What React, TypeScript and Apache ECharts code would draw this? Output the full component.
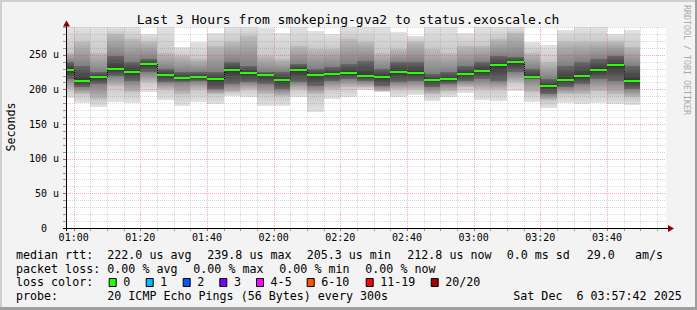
import React, { useEffect, useRef } from "react";
import * as echarts from "echarts";

// time axis in minutes after midnight (00:57:42 .. 03:57:42)
const X_MIN = 57.7;
const X_MAX = 237.7;
const Y_MAX = 290;
const STEP = 5;

const binStart = [55, 60, 65, 70, 75, 80, 85, 90, 95, 100, 105, 110, 115, 120, 125, 130, 135, 140, 145, 150, 155, 160, 165, 170, 175, 180, 185, 190, 195, 200, 205, 210, 215, 220, 225];
const medianRtt = [227.4, 211.6, 217.4, 228.9, 224.6, 236.5, 220.7, 216.0, 217.8, 214.5, 227.9, 223.6, 220.7, 213.1, 227.9, 221.2, 222.2, 223.6, 218.8, 217.4, 224.6, 223.6, 213.1, 214.5, 222.2, 226.5, 235.1, 239.8, 217.8, 205.3, 213.1, 219.3, 227.4, 235.1, 212.8];
const maxRtt = [298, 302, 300, 305, 299, 280, 296, 261, 267.7, 282, 297, 301, 288, 282, 298, 284, 280, 303, 299, 296, 283.5, 277.7, 300, 297, 281, 302, 299, 304, 268, 263.4, 286, 298, 300, 280, 285];
const hiMid = [253, 267.7, 253, 280, 272.5, 267.7, 253, 248.5, 243.7, 262.9, 267.7, 277, 248.5, 243.7, 262.9, 258, 258, 272.5, 267.7, 253, 258, 267.7, 258, 253, 262.9, 262.9, 272.5, 282, 253, 239, 267.7, 267.7, 267.7, 267.7, 260.5];
const hiCore = [239, 234, 224.6, 248.5, 239, 243.7, 229.3, 224.6, 224.6, 224.6, 239, 234, 224.6, 224.6, 236.5, 229.3, 231.7, 236.5, 241.3, 229.3, 239, 239, 222.2, 224.6, 234, 239, 248.5, 246, 229.3, 215, 234, 239, 243.7, 248.5, 234];
const loCore = [215, 203, 207.8, 219.8, 212.6, 224.6, 210.2, 210.2, 212.6, 200.6, 207.8, 210.2, 207.8, 200.6, 210.2, 205.4, 212.6, 215, 212.6, 205.4, 210.2, 212.6, 203, 207.8, 212.6, 215, 212.6, 224.6, 215, 193.4, 203, 207.8, 215, 212.6, 200.6];
const loMid = [200.6, 193.4, 186, 205.4, 195.8, 210.2, 200.6, 193.4, 200.6, 193.4, 195.8, 200.6, 193.4, 191, 200.6, 193.4, 200.6, 203, 203, 198, 200.6, 200.6, 193.4, 198, 203, 200.6, 200.6, 210.2, 195.8, 184, 193.4, 193.4, 198, 193.4, 188.6];
const minRtt = [188, 180.5, 174.7, 182, 180, 196.3, 184, 175.7, 181.5, 179.6, 191, 188.6, 175.7, 176.7, 188.6, 167.5, 186.2, 189, 199, 195.8, 188.6, 191.5, 183.3, 189, 194.8, 184.3, 183.3, 198.3, 181.5, 172.8, 180.5, 178.2, 180.5, 179.6, 177.6];

const xTickMinutes = [60, 80, 100, 120, 140, 160, 180, 200, 220];
const yTickValues = [0, 50, 100, 150, 200, 250];
const xGridMinutes = [60, 65, 70, 75, 80, 85, 90, 95, 100, 105, 110, 115, 120, 125, 130, 135, 140, 145, 150, 155, 160, 165, 170, 175, 180, 185, 190, 195, 200, 205, 210, 215, 220, 225, 230, 235];
const yGridValues = [10, 20, 30, 40, 50, 60, 70, 80, 90, 100, 110, 120, 130, 140, 150, 160, 170, 180, 190, 200, 210, 220, 230, 240, 250, 260, 270, 280, 290];

const lossLabels = ["0", "1", "2", "3", "4-5", "6-10", "11-19", "20/20"];
const lossColors = ["#26ff00", "#00b8ff", "#0059ff", "#7e00ff", "#ff00ff", "#ff5500", "#ff0000", "#a10000"];
const lossBoxX = [108.7, 145.7, 182.7, 219.3, 256, 306.7, 365.7, 430.7];

const titleText = "Last 3 Hours from smokeping-gva2 to status.exoscale.ch";
const rttRow = [
  ["median rtt:", 16],
  ["222.0 us avg", 107.3],
  ["239.8 us max", 207.3],
  ["205.3 us min", 306.7],
  ["212.8 us now", 407.3],
  ["0.0 ms sd", 506.7],
  ["29.0", 586.7],
  ["am/s", 635],
] as [string, number][];
const lossRow = [
  ["packet loss:", 16],
  ["0.00 % avg", 107.3],
  ["0.00 % max", 193.3],
  ["0.00 % min", 279.3],
  ["0.00 % now", 365.3],
] as [string, number][];
const probeRow = [
  ["probe:", 16],
  ["20 ICMP Echo Pings (56 Bytes) every 300s", 107.3],
  ["Sat Dec\u00a0\u00a06 03:57:42 2025", 513.3],
] as [string, number][];

const MONO = '"DejaVu Sans Mono", "Liberation Mono", monospace';

function fmtMinutes(m: number) {
  const h = Math.floor(m / 60);
  const mm = Math.round(m % 60);
  return String(h).padStart(2, "0") + ":" + String(mm).padStart(2, "0");
}

function grad(c1: string, c2: string) {
  return new echarts.graphic.LinearGradient(0, 0, 0, 1, [
    { offset: 0, color: c1 },
    { offset: 1, color: c2 },
  ]);
}

function legendText(text: string, x: number, y: number) {
  return {
    type: "text",
    x,
    y,
    z: 20,
    style: { text, font: `11.66px ${MONO}`, fill: "#000", verticalAlign: "middle", align: "left" },
  };
}

export default function App() {
  const ref = useRef<HTMLDivElement>(null);

  useEffect(() => {
    const chart = echarts.init(ref.current!, null, { renderer: "svg" });

    const smokeData = binStart.map((s, i) => [s, minRtt[i], loMid[i], loCore[i], medianRtt[i], hiCore[i], hiMid[i], maxRtt[i]]);
    const medianData = binStart.map((s, i) => [s, medianRtt[i]]);

    const graphics: any[] = [];
    // border shades
    graphics.push({ type: "rect", shape: { x: 0, y: 0, width: 697, height: 2 }, style: { fill: "#cfcfcf" }, z: 30 });
    graphics.push({ type: "rect", shape: { x: 0, y: 0, width: 2, height: 310 }, style: { fill: "#cfcfcf" }, z: 30 });
    graphics.push({ type: "rect", shape: { x: 695, y: 0, width: 2, height: 310 }, style: { fill: "#9e9e9e" }, z: 30 });
    graphics.push({ type: "rect", shape: { x: 0, y: 307, width: 697, height: 3 }, style: { fill: "#9e9e9e" }, z: 30 });
    // title
    graphics.push({
      type: "text", x: 348, y: 19, z: 20,
      style: { text: titleText, font: `13px ${MONO}`, fill: "#000", align: "center", verticalAlign: "middle" },
    });
    // y axis name
    graphics.push({
      type: "text", x: 10.5, y: 127, rotation: Math.PI / 2, z: 20,
      style: { text: "Seconds", font: `11.66px ${MONO}`, fill: "#000", align: "center", verticalAlign: "middle" },
    });
    // watermark
    graphics.push({
      type: "text", x: 687, y: 5, rotation: -Math.PI / 2, z: 20,
      style: { text: "RRDTOOL / TOBI OETIKER", font: `8.3px ${MONO}`, fill: "#aaaaaa", align: "left", verticalAlign: "middle" },
    });
    // axes
    graphics.push({ type: "line", z: 25, shape: { x1: 63, y1: 228.5, x2: 669, y2: 228.5 }, style: { stroke: "#000", lineWidth: 1 } });
    graphics.push({ type: "polygon", z: 25, shape: { points: [[668, 225], [674, 228.5], [668, 232]] }, style: { fill: "#8b0000" } });
    graphics.push({ type: "line", z: 25, shape: { x1: 66.5, y1: 231, x2: 66.5, y2: 26 }, style: { stroke: "#000", lineWidth: 1 } });
    graphics.push({ type: "polygon", z: 25, shape: { points: [[63, 26.5], [66.5, 20.5], [70, 26.5]] }, style: { fill: "#8b0000" } });
    // legend
    rttRow.forEach(([t, x]) => graphics.push(legendText(t, x, 254.5)));
    lossRow.forEach(([t, x]) => graphics.push(legendText(t, x, 268.5)));
    graphics.push(legendText("loss color:", 16, 282.3));
    lossLabels.forEach((lab, i) => {
      graphics.push({
        type: "rect", z: 20,
        shape: { x: lossBoxX[i] + 0.5, y: 278.5, width: 7, height: 8 },
        style: { fill: lossColors[i], stroke: "#000", lineWidth: 1 },
      });
      graphics.push(legendText(lab, lossBoxX[i] + 14.6, 282.3));
    });
    probeRow.forEach(([t, x]) => graphics.push(legendText(t, x, 296.3)));

    const option: any = {
      animation: false,
      backgroundColor: "#f3f3f3",
      grid: { left: 66, right: 31, top: 27, bottom: 82, show: true, backgroundColor: "#ffffff", borderWidth: 0 },
      xAxis: {
        type: "value",
        min: X_MIN,
        max: X_MAX,
        axisLine: { show: false },
        axisTick: { show: false },
        splitLine: { show: false },
        axisLabel: {
          customValues: xTickMinutes,
          formatter: (v: number) => fmtMinutes(v),
          fontFamily: MONO,
          fontSize: 10,
          color: "#000",
          margin: 4,
        },
      },
      yAxis: {
        type: "value",
        min: 0,
        max: Y_MAX,
        interval: 50,
        axisLine: { show: false },
        axisTick: { show: false },
        splitLine: { show: false },
        axisLabel: {
          customValues: yTickValues,
          formatter: (v: number) => (v === 0 ? "0\u00a0\u00a0" : yTickValues.includes(v) ? `${v} u` : ""),
          fontFamily: MONO,
          fontSize: 10,
          color: "#000",
          margin: 7,
        },
      },
      graphic: graphics,
      series: [
        {
          type: "custom",
          z: 2,
          clip: true,
          data: smokeData,
          encode: { x: 0, y: [1, 7] },
          renderItem: (params: any, api: any) => {
            const s0 = api.value(0);
            const s = Math.max(s0, X_MIN);
            const e = s0 + STEP;
            const xl = Math.round(api.coord([s, 0])[0]);
            const xr = Math.round(api.coord([e, 0])[0]);
            const ys: number[] = [];
            for (let k = 1; k <= 7; k++) {
              ys.push(Math.round(api.coord([s, Math.min(api.value(k), Y_MAX)])[1]));
            }
            const segs: [number, number, string, string][] = [
              [ys[6], ys[5], "#e2e2e2", "#c8c8c8"],
              [ys[5], ys[4], "#bcbcbc", "#808080"],
              [ys[4], ys[3], "#686868", "#363636"],
              [ys[3], ys[2], "#363636", "#686868"],
              [ys[2], ys[1], "#808080", "#bcbcbc"],
              [ys[1], ys[0], "#c8c8c8", "#e2e2e2"],
            ];
            const children = segs
              .filter(([t, b]) => b - t > 0)
              .map(([t, b, c1, c2]) => ({
                type: "rect",
                shape: { x: xl, y: t, width: xr - xl, height: b - t },
                style: { fill: grad(c1, c2) },
              }));
            return { type: "group", children };
          },
        },
        {
          type: "custom",
          z: 4,
          clip: true,
          data: medianData,
          encode: { x: 0, y: 1 },
          renderItem: (params: any, api: any) => {
            const i = params.dataIndex;
            const s0 = api.value(0);
            const s = Math.max(s0, X_MIN);
            const a = api.coord([s, api.value(1)]);
            const b = api.coord([s0 + STEP, api.value(1)]);
            const xl = Math.round(a[0]);
            const xr = Math.round(b[0]);
            const y = Math.round(a[1]);
            const children: any[] = [];
            if (i > 0) {
              const prevY = Math.round(api.coord([s, medianRtt[i - 1]])[1]);
              children.push({
                type: "line",
                shape: { x1: xl + 0.5, y1: prevY, x2: xl + 0.5, y2: y },
                style: { stroke: "#000", lineWidth: 1, lineDash: [1, 1] },
              });
            }
            children.push({
              type: "rect",
              shape: { x: xl, y: y - 1, width: xr - xl, height: 2 },
              style: { fill: "#26ff00" },
            });
            return { type: "group", children };
          },
        },
        {
          type: "custom",
          z: 6,
          silent: true,
          data: xGridMinutes.map((m) => [m, 0]),
          encode: { x: 0, y: 1 },
          renderItem: (params: any, api: any) => {
            const m = api.value(0);
            const major = xTickMinutes.includes(m);
            const p0 = api.coord([m, 0]);
            const p1 = api.coord([m, Y_MAX]);
            const x = Math.round(p0[0]) + 0.5;
            return {
              type: "group",
              children: [
                {
                  type: "line",
                  shape: { x1: x, y1: p0[1], x2: x, y2: p1[1] },
                  style: { stroke: major ? "rgba(225,80,80,0.45)" : "rgba(128,128,128,0.3)", lineWidth: 1, lineDash: [1, 1] },
                },
                {
                  type: "line",
                  shape: { x1: x, y1: p0[1], x2: x, y2: p0[1] + 3 },
                  style: { stroke: major ? "#e05050" : "#999999", lineWidth: 1 },
                },
              ],
            };
          },
        },
        {
          type: "custom",
          z: 6,
          silent: true,
          data: yGridValues.map((v) => [X_MIN, v]),
          encode: { x: 0, y: 1 },
          renderItem: (params: any, api: any) => {
            const v = api.value(1);
            const major = v % 50 === 0 && v <= 250;
            const p0 = api.coord([X_MIN, v]);
            const p1 = api.coord([X_MAX, v]);
            const y = Math.round(p0[1]) + 0.5;
            return {
              type: "group",
              children: [
                {
                  type: "line",
                  shape: { x1: p0[0], y1: y, x2: p1[0], y2: y },
                  style: { stroke: major ? "rgba(225,80,80,0.45)" : "rgba(128,128,128,0.3)", lineWidth: 1, lineDash: [1, 1] },
                },
                {
                  type: "line",
                  shape: { x1: p0[0] - 3, y1: y, x2: p0[0], y2: y },
                  style: { stroke: major ? "#e05050" : "#999999", lineWidth: 1 },
                },
              ],
            };
          },
        },
      ],
    };

    chart.setOption(option);
    return () => chart.dispose();
  }, []);

  return <div ref={ref} style={{ position: "fixed", left: 0, top: 0, width: 697, height: 310 }} />;
}
